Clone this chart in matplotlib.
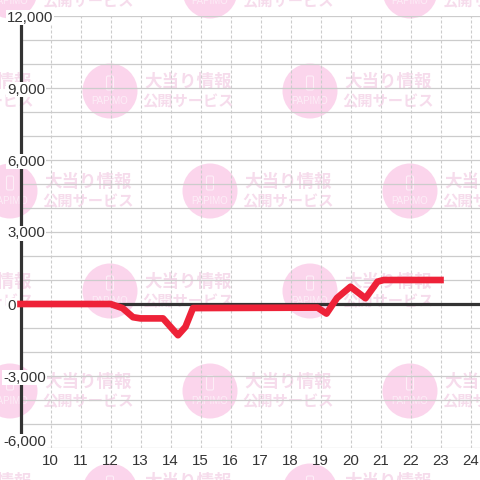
import matplotlib
matplotlib.use("Agg")
import matplotlib.pyplot as plt
from matplotlib.patches import Circle, FancyBboxPatch
from matplotlib.transforms import Affine2D

plt.rcParams['font.family'] = ['Liberation Sans', 'DejaVu Sans']

# hours and balance
hours = [9, 12, 12.4, 12.75, 13, 13.75, 14.25, 14.5, 14.75, 18.9, 19.2, 19.55, 20, 20.5, 20.9, 21.1, 23]
balance = [0, 0, -170, -550, -600, -600, -1300, -950, -170, -150, -400, 250, 720, 240, 930, 1000, 1000]

x_ticks = list(range(10, 25))
y_major = [12000, 9000, 6000, 3000, 0, -3000, -6000]
y_grid = list(range(-6000, 13000, 1000))
y_labels = ['12,000', '9,000', '6,000', '3,000', '0', '-3,000', '-6,000']

fig = plt.figure(figsize=(4.8, 4.8), dpi=100, facecolor='white')
px = Affine2D().scale(1 / 480, -1 / 480).translate(0, 1) + fig.transFigure

# watermark tiles, behind the axes
def watermark(cx, cy):
    fig.add_artist(Circle((cx, cy), 27.5, transform=px, fc='#fbd5ec', ec='none', zorder=-5))
    fig.add_artist(FancyBboxPatch((cx - 3.5, cy - 15), 7, 14, boxstyle='round,pad=0,rounding_size=1.5',
                                  transform=px, fc='none', ec='#fdeef7', lw=0.8, zorder=-4))
    fig.text(cx, cy + 10, 'PAPIMO', transform=px, color='#fdeef7', fontsize=7,
             ha='center', va='center', zorder=-4)
    fig.text(cx + 78.5, cy - 9.5, '大当り情報', transform=px, color='#f6dcec', fontsize=12.6, fontweight='bold',
             family=['Noto Sans CJK JP', 'DejaVu Sans'], ha='center', va='center', zorder=-4)
    fig.text(cx + 78, cy + 10, '公開サービス', transform=px, color='#f6dcec', fontsize=11, fontweight='bold',
             family=['Noto Sans CJK JP', 'DejaVu Sans'], ha='center', va='center', zorder=-4)

for row, cy in enumerate(range(-9, 500, 100)):
    start = 10 if row % 2 == 0 else -90
    for cx in range(start, 520, 200):
        watermark(cx, cy)

# plot area in pixels: x 20.5-480, y 16-448
ax = fig.add_axes([20.5 / 480, 1 - 448 / 480, (480 - 20.5) / 480, (448 - 16) / 480])
ax.patch.set_visible(False)
ax.set_xlim(9, 9 + (480 - 20.5) / 30)
ax.set_ylim(-6000, 12000)

for s in ['top', 'right', 'bottom']:
    ax.spines[s].set_visible(False)
ax.spines['left'].set_color('#333333')
ax.spines['left'].set_linewidth(2.3)
ax.spines['left'].set_bounds(-5500, 11670)
ax.spines['left'].set_zorder(2)

for v in y_grid:
    ax.axhline(v, color='#cccccc', lw=0.9, zorder=1)
for h in x_ticks:
    ax.axvline(h, color='#cccccc', lw=0.8, dashes=(2.7, 1.8), zorder=1)
ax.axhline(0, color='#333333', lw=2.3, zorder=2)

ax.plot(hours, balance, color='#ee2238', lw=4.8, solid_joinstyle='round', clip_on=False, zorder=4)

ax.set_xticks(x_ticks)
ax.set_xticklabels([str(h) for h in x_ticks])
ax.tick_params(axis='x', length=0, pad=4.5, labelsize=10.8, labelcolor='#333333')
ax.set_yticks([])

# y labels sit on the axis line with a white box
for v, lab in zip(y_major, y_labels):
    left = 3 if v < 0 else 7
    shift = 6 if v == -6000 else -1.5
    ax.annotate(lab, (9, v), xytext=((left - 20.5) * 0.72, shift * 0.72), textcoords='offset points',
                ha='left', va='center', fontsize=10.8, color='#333333', annotation_clip=False, zorder=3,
                bbox=dict(fc='white', ec='none', pad=0.5))

fig.savefig('out.png', dpi=100)
